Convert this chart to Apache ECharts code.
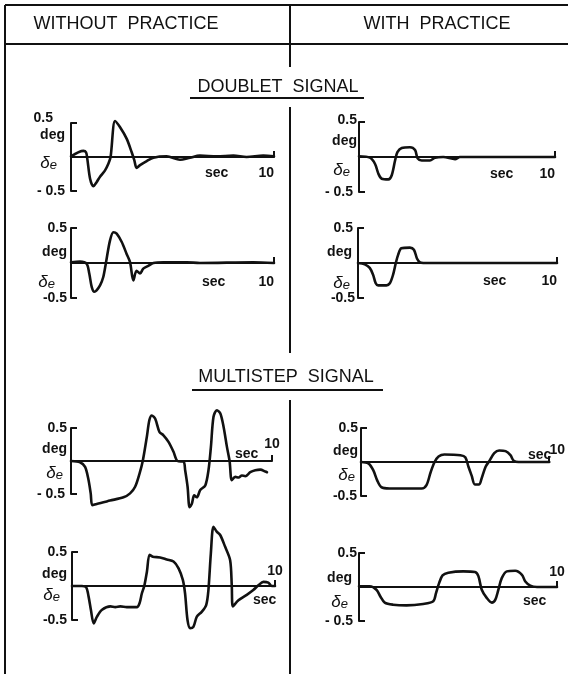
<!DOCTYPE html>
<html>
<head>
<meta charset="utf-8">
<script src="https://cdn.jsdelivr.net/npm/echarts@6/dist/echarts.min.js"></script>
<style>
  html, body { margin: 0; padding: 0; background: #fff; }
  #chart { width: 568px; height: 674px; }
</style>
</head>
<body>
<div id="chart"></div>
<script>
// Elevator deflection δe (deg) against time (sec), doublet and multistep inputs,
// two runs each, without and with practice.

// Doublet signal, without practice, run 1
const doubletWithout1Time = [0, 0.61, 0.74, 0.8, 0.94, 1.1, 1.26, 1.43, 1.67, 1.84, 1.95, 2.17, 2.41, 2.74, 2.99, 3.12, 3.23, 3.4, 3.73, 4.06, 4.71, 5.37, 5.86, 6.35, 7.18, 8.0, 8.65, 9.47, 10];
const doubletWithout1Defl = [0.01, 0.09, 0.07, -0.02, -0.32, -0.43, -0.37, -0.29, -0.2, -0.1, 0, 0.53, 0.44, 0.27, 0.07, -0.05, -0.16, -0.12, -0.06, -0.01, 0.01, -0.04, -0.01, 0.02, 0.01, 0.02, 0, 0.02, 0.01];

// Doublet signal, with practice, run 1
const doubletWith1Time = [0, 0.56, 0.82, 0.99, 1.16, 1.5, 1.67, 1.84, 1.96, 2.18, 2.6, 2.86, 2.99, 3.2, 3.62, 3.88, 4.3, 4.9, 5.15, 10];
const doubletWith1Defl = [0.01, -0.01, -0.1, -0.24, -0.31, -0.32, -0.26, -0.05, 0.07, 0.13, 0.14, 0.1, -0.02, -0.05, -0.05, -0.01, 0, -0.03, 0, 0];

// Doublet signal, without practice, run 2
const doubletWithout2Time = [0, 0.44, 0.77, 0.9, 1.02, 1.15, 1.26, 1.43, 1.59, 1.72, 1.92, 2.09, 2.25, 2.5, 2.74, 2.91, 3.07, 3.23, 3.4, 3.56, 3.81, 4.06, 4.55, 5.7, 6.35, 8.98, 10];
const doubletWithout2Defl = [0.01, 0.02, -0.01, -0.15, -0.34, -0.41, -0.39, -0.32, -0.2, 0, 0.32, 0.44, 0.42, 0.3, 0.13, 0.01, -0.25, -0.11, -0.15, -0.08, -0.04, 0, 0.01, 0.01, 0, 0.01, 0];

// Doublet signal, with practice, run 2
const doubletWith2Time = [0, 0.34, 0.59, 0.76, 0.89, 1.01, 1.43, 1.6, 1.76, 1.9, 2.02, 2.18, 2.61, 2.81, 2.97, 3.11, 3.28, 10];
const doubletWith2Defl = [0, -0.02, -0.07, -0.17, -0.29, -0.32, -0.32, -0.29, -0.17, 0, 0.12, 0.21, 0.22, 0.19, 0.06, 0.01, 0, 0];

// Multistep signal, without practice, run 1
const multistepWithout1Time = [0, 0.45, 0.7, 0.86, 0.98, 1.06, 1.28, 1.94, 2.61, 2.94, 3.19, 3.41, 3.57, 3.77, 3.9, 4.02, 4.19, 4.4, 4.6, 4.85, 5.1, 5.3, 5.6, 5.68, 5.8, 5.9, 6.01, 6.13, 6.26, 6.43, 6.68, 6.84, 6.96, 7.09, 7.26, 7.43, 7.59, 7.76, 7.89, 8.0, 8.17, 8.34, 8.5, 8.67, 8.92, 9.17, 9.42, 9.67, 9.75];
const multistepWithout1Defl = [0, -0.02, -0.09, -0.27, -0.49, -0.67, -0.65, -0.6, -0.55, -0.49, -0.39, -0.19, 0, 0.36, 0.62, 0.69, 0.64, 0.44, 0.39, 0.29, 0.14, 0, -0.01, -0.14, -0.39, -0.7, -0.65, -0.52, -0.55, -0.44, -0.37, -0.14, 0.21, 0.67, 0.77, 0.72, 0.52, 0.21, 0, -0.29, -0.24, -0.25, -0.22, -0.23, -0.17, -0.14, -0.13, -0.16, -0.17];

// Multistep signal, with practice, run 1
const multistepWith1Time = [0, 0.39, 0.65, 0.86, 1.08, 1.51, 2.37, 3.22, 3.48, 3.7, 3.91, 4.12, 4.43, 5.28, 5.54, 5.71, 5.88, 6.05, 6.28, 6.4, 6.62, 6.83, 7.08, 7.34, 7.68, 7.94, 8.11, 8.37, 10];
const multistepWith1Defl = [0, -0.02, -0.12, -0.27, -0.37, -0.39, -0.39, -0.39, -0.34, -0.15, 0, 0.08, 0.11, 0.1, 0.07, -0.07, -0.2, -0.33, -0.33, -0.25, -0.07, 0.02, 0.13, 0.17, 0.16, 0.1, 0.02, 0, 0];

// Multistep signal, without practice, run 2
const multistepWithout2Time = [0, 0.49, 0.7, 0.82, 0.93, 1.07, 1.23, 1.48, 1.89, 2.13, 2.38, 2.7, 3.2, 3.33, 3.44, 3.56, 3.69, 3.82, 3.98, 4.34, 4.67, 5.0, 5.25, 5.46, 5.57, 5.69, 5.82, 5.98, 6.15, 6.39, 6.61, 6.72, 6.84, 6.97, 7.13, 7.3, 7.54, 7.79, 7.87, 7.92, 8.2, 8.61, 8.93, 9.18, 9.43, 9.67, 9.84, 10];
const multistepWithout2Defl = [0, 0, -0.02, -0.16, -0.35, -0.55, -0.45, -0.35, -0.3, -0.31, -0.3, -0.31, -0.31, -0.25, -0.11, 0, 0.21, 0.46, 0.43, 0.42, 0.39, 0.36, 0.26, 0.09, -0.11, -0.5, -0.62, -0.6, -0.45, -0.38, -0.28, -0.06, 0.48, 0.87, 0.8, 0.75, 0.58, 0.38, 0.01, -0.3, -0.21, -0.13, -0.06, 0.01, 0.06, 0.05, 0, 0];

// Multistep signal, with practice, run 2
const multistepWith2Time = [0, 0.54, 0.88, 1.08, 1.3, 1.72, 2.4, 3.24, 3.75, 3.89, 4.05, 4.22, 4.51, 5.27, 5.86, 6.03, 6.2, 6.45, 6.71, 6.88, 7.04, 7.21, 7.47, 7.89, 8.23, 8.4, 8.65, 8.99, 10];
const multistepWith2Defl = [0.01, 0.01, -0.04, -0.14, -0.23, -0.26, -0.27, -0.25, -0.21, -0.09, 0.06, 0.17, 0.21, 0.23, 0.22, 0.16, -0.04, -0.16, -0.23, -0.19, -0.04, 0.13, 0.23, 0.24, 0.18, 0.08, 0.02, 0, 0];

// Axis scale and tick labels
const timeMax = 10;
const deflLimit = 0.5;
const timeTicks = [10];
const deflTicks = [-0.5, 0.5];
const columnHeaders = ['WITHOUT  PRACTICE', 'WITH  PRACTICE'];
const sectionTitles = ['DOUBLET  SIGNAL', 'MULTISTEP  SIGNAL'];

const runs = [
  [doubletWithout1Time, doubletWithout1Defl],
  [doubletWith1Time, doubletWith1Defl],
  [doubletWithout2Time, doubletWithout2Defl],
  [doubletWith2Time, doubletWith2Defl],
  [multistepWithout1Time, multistepWithout1Defl],
  [multistepWith1Time, multistepWith1Defl],
  [multistepWithout2Time, multistepWithout2Defl],
  [multistepWith2Time, multistepWith2Defl]
];

// Panel placement and label offsets (tenMargin is measured up from the grid bottom)
const panels = [
  { left: 71,  top: 123, width: 203, height: 68, neg: '- 0.5', padP: 18, liftP: 5, padN: 6, tenAlign: 'right',  tenShift: 0,  tenMargin: 11, deg: [65, 135],  de: [57, 162],  sec: [205, 173] },
  { left: 359, top: 122, width: 196, height: 70, neg: '- 0.5', padP: 2,  liftP: 2, padN: 6, tenAlign: 'right',  tenShift: 0,  tenMargin: 11, deg: [357, 141], de: [350, 169], sec: [490, 174] },
  { left: 71,  top: 228, width: 203, height: 70, neg: '-0.5',  padP: 4,  liftP: 0, padN: 4, tenAlign: 'right',  tenShift: 0,  tenMargin: 9,  deg: [67, 252],  de: [55, 281],  sec: [202, 282] },
  { left: 358, top: 228, width: 199, height: 70, neg: '-0.5',  padP: 5,  liftP: 0, padN: 3, tenAlign: 'right',  tenShift: 0,  tenMargin: 10, deg: [352, 252], de: [350, 282], sec: [483, 281] },
  { left: 71,  top: 428, width: 201, height: 66, neg: '- 0.5', padP: 4,  liftP: 0, padN: 6, tenAlign: 'center', tenShift: 0,  tenMargin: 43, deg: [67, 449],  de: [63, 472],  sec: [235, 454] },
  { left: 361, top: 428, width: 194, height: 68, neg: '-0.5',  padP: 3,  liftP: 0, padN: 4, tenAlign: 'center', tenShift: 16, tenMargin: 39, deg: [358, 451], de: [355, 474], sec: [528, 455] },
  { left: 72,  top: 552, width: 203, height: 68, neg: '-0.5',  padP: 5,  liftP: 0, padN: 5, tenAlign: 'center', tenShift: 0,  tenMargin: 42, deg: [67, 574],  de: [60, 594],  sec: [253, 600] },
  { left: 359, top: 553, width: 198, height: 68, neg: '- 0.5', padP: 2,  liftP: 0, padN: 6, tenAlign: 'center', tenShift: 0,  tenMargin: 42, deg: [352, 578], de: [348, 601], sec: [523, 601] }
];

const FONT = 'Liberation Sans';
const INK = '#111';

const grid = [], xAxis = [], yAxis = [], series = [], texts = [];

panels.forEach((p, i) => {
  grid.push({ left: p.left, top: p.top, width: p.width, height: p.height, containLabel: false });

  xAxis.push({
    type: 'value', gridIndex: i, min: 0, max: timeMax,
    axisLine: { show: true, onZero: true, lineStyle: { color: INK, width: 2 } },
    axisTick: { show: true, customValues: timeTicks, inside: true, length: 6, lineStyle: { color: INK, width: 2 } },
    axisLabel: {
      show: true, customValues: timeTicks, inside: true, margin: p.tenMargin,
      align: p.tenAlign, color: INK, fontFamily: FONT, fontSize: 14, fontWeight: 'bold',
      formatter: v => '{t|' + v + '}',
      rich: { t: { padding: [0, 0, 0, p.tenShift], fontFamily: FONT, fontSize: 14, fontWeight: 'bold', color: INK } }
    },
    splitLine: { show: false }
  });

  yAxis.push({
    type: 'value', gridIndex: i, min: -deflLimit, max: deflLimit,
    axisLine: { show: true, onZero: false, lineStyle: { color: INK, width: 2 } },
    axisTick: { show: true, customValues: deflTicks, inside: true, length: 6, lineStyle: { color: INK, width: 2 } },
    axisLabel: {
      show: true, customValues: deflTicks, margin: 0,
      color: INK, fontFamily: FONT, fontSize: 14, fontWeight: 'bold',
      formatter: v => v > 0 ? '{p|' + v + '}' : '{n|' + p.neg + '}',
      rich: {
        p: { padding: [0, p.padP, p.liftP * 2, 0], fontFamily: FONT, fontSize: 14, fontWeight: 'bold', color: INK },
        n: { padding: [0, p.padN, 0, 0], fontFamily: FONT, fontSize: 14, fontWeight: 'bold', color: INK }
      }
    },
    splitLine: { show: false }
  });

  const [t, d] = runs[i];
  series.push({
    type: 'line', xAxisIndex: i, yAxisIndex: i,
    data: t.map((x, k) => [x, d[k]]),
    showSymbol: false, clip: false, smooth: 0.3,
    lineStyle: { color: INK, width: 2.6, cap: 'round', join: 'round' },
    silent: true
  });

  texts.push({
    type: 'text', x: p.deg[0], y: p.deg[1],
    style: { text: 'deg', align: 'right', verticalAlign: 'middle', font: 'bold 14px "' + FONT + '"', fill: INK }
  });
  texts.push({
    type: 'text', x: p.de[0], y: p.de[1],
    style: {
      text: '{d|δ}{s|e}', align: 'right', verticalAlign: 'middle',
      rich: {
        d: { fontFamily: FONT, fontSize: 17, fontStyle: 'italic', fill: INK, verticalAlign: 'bottom' },
        s: { fontFamily: FONT, fontSize: 13, fontStyle: 'italic', fill: INK, verticalAlign: 'bottom', padding: [6, 0, 0, 0] }
      }
    }
  });
  texts.push({
    type: 'text', x: p.sec[0], y: p.sec[1],
    style: { text: 'sec', align: 'left', verticalAlign: 'middle', font: 'bold 14px "' + FONT + '"', fill: INK }
  });
});

// Table frame, column dividers and underlined section titles
const line = (x1, y1, x2, y2) => ({
  type: 'line', shape: { x1, y1, x2, y2 },
  style: { stroke: INK, lineWidth: 2 }
});
const frame = [
  line(5, 5, 568, 5),
  line(5, 44, 568, 44),
  line(5, 5, 5, 674),
  line(290, 5, 290, 67),
  line(290, 107, 290, 353),
  line(290, 400, 290, 674),
  line(190, 98, 364, 98),
  line(192, 390, 383, 390)
];
const headText = (txt, x, y, align) => ({
  type: 'text', x, y,
  style: { text: txt, align, verticalAlign: 'middle', font: '18px "' + FONT + '"', fill: INK }
});
const labels = [
  headText(columnHeaders[0], 126, 24, 'center'),
  headText(columnHeaders[1], 437, 24, 'center'),
  headText(sectionTitles[0], 278, 87, 'center'),
  headText(sectionTitles[1], 286, 377, 'center')
];

const chart = echarts.init(document.getElementById('chart'), null, { renderer: 'canvas' });
chart.setOption({
  animation: false,
  backgroundColor: '#fff',
  grid, xAxis, yAxis, series,
  graphic: { elements: frame.concat(labels, texts) }
});
</script>
</body>
</html>
